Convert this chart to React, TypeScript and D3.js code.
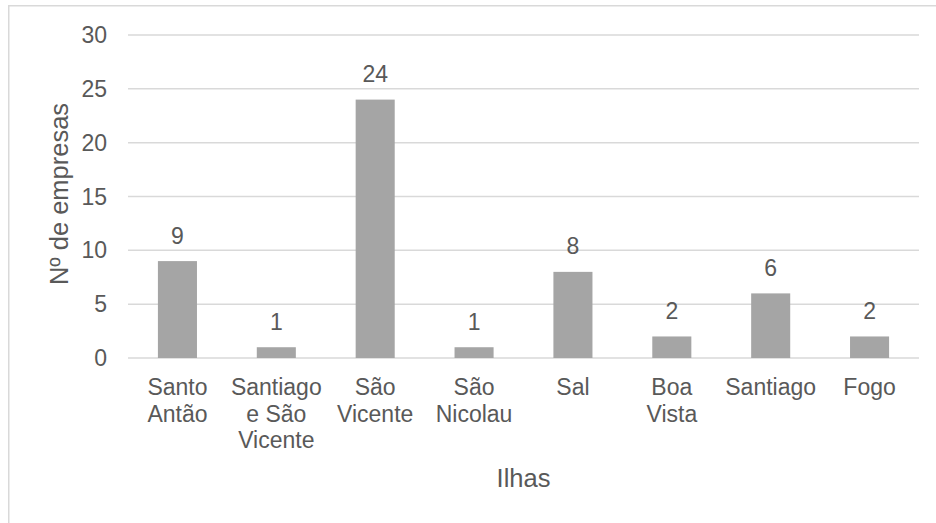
import React from "react";
import * as d3 from "d3";

const categories: string[][] = [
  ["Santo", "Antão"],
  ["Santiago", "e São", "Vicente"],
  ["São", "Vicente"],
  ["São", "Nicolau"],
  ["Sal"],
  ["Boa", "Vista"],
  ["Santiago"],
  ["Fogo"],
];
const values: number[] = [9, 1, 24, 1, 8, 2, 6, 2];
const yTicks: number[] = [0, 5, 10, 15, 20, 25, 30];
const yTitle = "Nº de empresas";
const xTitle = "Ilhas";

const W = 936;
const H = 523;
const left = 128;
const right = 919;
const top = 35;
const bottom = 358;
const FONT = "'Liberation Sans', Arial, sans-serif";
const TEXT = "#595959";

export default function App() {
  const keys = categories.map((c, i) => String(i));
  const x = d3.scaleBand<string>().domain(keys).range([left, right]).padding(0);
  const y = d3.scaleLinear().domain([0, 30]).range([bottom, top]);
  const step = x.bandwidth();
  const bw = step * 0.395;

  return (
    <svg
      width={W}
      height={H}
      style={{ position: "absolute", left: 0, top: 0, background: "#fff" }}
      fontFamily={FONT}
    >
      <rect x={0} y={0} width={W} height={H} fill="#fff" />
      <rect
        x={8.75}
        y={5.75}
        width={W + 20}
        height={H + 20}
        fill="none"
        stroke="#d9d9d9"
        strokeWidth={1.5}
      />
      {yTicks.map((t) => (
        <g key={t}>
          <line
            x1={left}
            x2={right}
            y1={y(t)}
            y2={y(t)}
            stroke="#d9d9d9"
            strokeWidth={1.5}
          />
          <text
            x={107}
            y={y(t) + 8}
            textAnchor="end"
            fontSize={23}
            fill={TEXT}
          >
            {t}
          </text>
        </g>
      ))}
      {values.map((v, i) => {
        const cx = (x(String(i)) as number) + step / 2;
        return (
          <g key={i}>
            <rect
              x={cx - bw / 2}
              y={y(v)}
              width={bw}
              height={y(0) - y(v)}
              fill="#a5a5a5"
            />
            <text
              x={cx}
              y={y(v) - 17.5}
              textAnchor="middle"
              fontSize={23}
              fill={TEXT}
            >
              {v}
            </text>
            {categories[i].map((line, j) => (
              <text
                key={j}
                x={cx}
                y={395 + j * 26.5}
                textAnchor="middle"
                fontSize={23}
                fill={TEXT}
              >
                {line}
              </text>
            ))}
          </g>
        );
      })}
      <text
        x={(left + right) / 2}
        y={487}
        textAnchor="middle"
        fontSize={25.5}
        fill={TEXT}
      >
        {xTitle}
      </text>
      <text
        transform={`translate(68, 194) rotate(-90)`}
        textAnchor="middle"
        fontSize={25.5}
        fill={TEXT}
      >
        {yTitle}
      </text>
    </svg>
  );
}
